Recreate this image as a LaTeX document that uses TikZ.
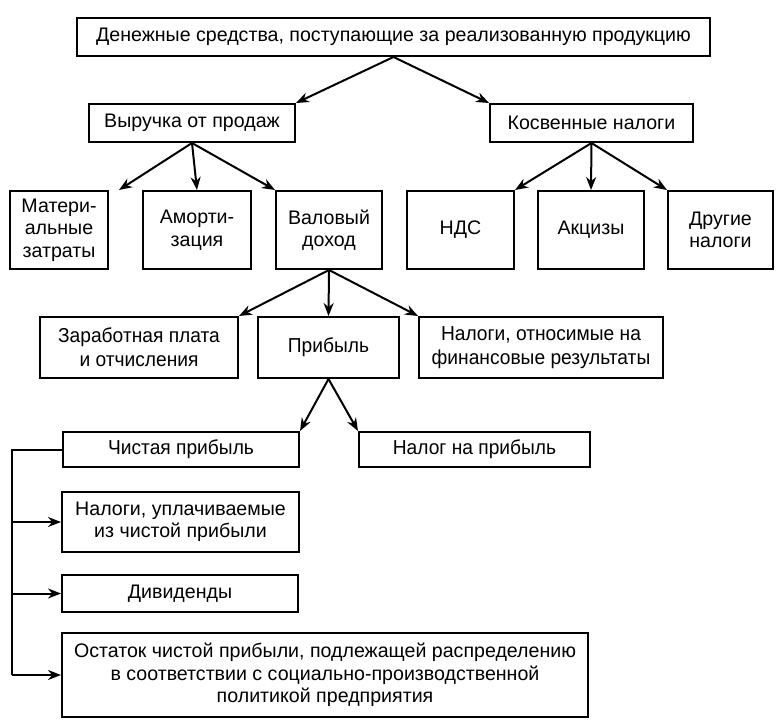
\documentclass[tikz,border=0pt]{standalone}
\usepackage{fontspec}
\setmainfont{Liberation Sans}
\newfontfamily\narrowfont[FakeStretch=0.95]{Liberation Sans}
\usetikzlibrary{arrows.meta,calc}
\tikzset{
  box/.style={draw, line width=2pt, inner sep=0pt, align=center, font=\fontsize{19.6}{22.5}\selectfont},
  nbox/.style={box, font=\narrowfont\fontsize{20.2}{24}\selectfont},
  arr/.style={line width=2pt, -{Stealth[length=13pt,width=10pt]}},
  ln/.style={line width=2pt}
}
\begin{document}
\begin{tikzpicture}[x=1pt,y=-1pt]
\useasboundingbox (0,0) rectangle (782,725);
\node[box, minimum width=633, minimum height=38] (top) at (393.5,37) {Денежные средства, поступающие за реализованную продукцию};
\node[box, minimum width=206, minimum height=38] (vyr) at (192,123) {Выручка от продаж};
\node[box, minimum width=203, minimum height=38] (kos) at (591.5,123) {Косвенные налоги};
\node[box, minimum width=98, minimum height=78] (mat) at (59,230) {Матери-\\альные\\затраты};
\node[box, minimum width=108, minimum height=78] (amo) at (197,230) {Аморти-\\зация};
\node[box, minimum width=106, minimum height=78] (val) at (329,230) {Валовый\\доход};
\node[box, minimum width=107, minimum height=78] (nds) at (460.5,230) {НДС};
\node[box, minimum width=106, minimum height=78] (akc) at (591,230) {Акцизы};
\node[box, minimum width=105, minimum height=78] (dru) at (720.5,230) {Другие\\налоги};
\node[nbox, minimum width=198, minimum height=61] (zar) at (139,347.5) {Заработная плата\\и отчисления};
\node[nbox, minimum width=141, minimum height=61] (pri) at (328.5,347.5) {Прибыль};
\node[nbox, minimum width=244, minimum height=61] (nal) at (541,347.5) {Налоги, относимые на\\финансовые результаты};
\node[nbox, minimum width=236, minimum height=35] (chi) at (181,449.5) {Чистая прибыль};
\node[nbox, minimum width=231, minimum height=35] (nnp) at (474.5,449.5) {Налог на прибыль};
\node[box, minimum width=237, minimum height=60] (nup) at (180.5,522) {Налоги, уплачиваемые\\из чистой прибыли};
\node[box, minimum width=236, minimum height=37] (div) at (180,593.5) {Дивиденды};
\node[box, minimum width=526, minimum height=84] (ost) at (325,675) {Остаток чистой прибыли, подлежащей распределению\\в соответствии с социально-производственной\\политикой предприятия};

\draw[arr] (top.south) -- (vyr.north east);
\draw[arr] (top.south) -- (kos.north west);
\draw[arr] (vyr.south) -- ($(mat.north east)+(10,0)$);
\draw[arr] (vyr.south) -- (amo.north);
\draw[arr] (vyr.south) -- (val.north west);
\draw[arr] (kos.south) -- (nds.north east);
\draw[arr] (kos.south) -- (akc.north);
\draw[arr] (kos.south) -- (dru.north west);
\draw[arr] (val.south) -- (zar.north east);
\draw[arr] (val.south) -- (pri.north);
\draw[arr] (val.south) -- (nal.north west);
\draw[arr] (pri.south) -- (chi.north east);
\draw[arr] (pri.south) -- (nnp.north west);

\coordinate (rail) at ($(chi.west)+(-50,0)$);
\draw[ln] (chi.west) -- (rail) -- (rail |- ost.west);
\draw[arr] (rail |- nup.west) -- (nup.west);
\draw[arr] (rail |- div.west) -- (div.west);
\draw[arr] (rail |- ost.west) -- (ost.west);
\end{tikzpicture}
\end{document}
